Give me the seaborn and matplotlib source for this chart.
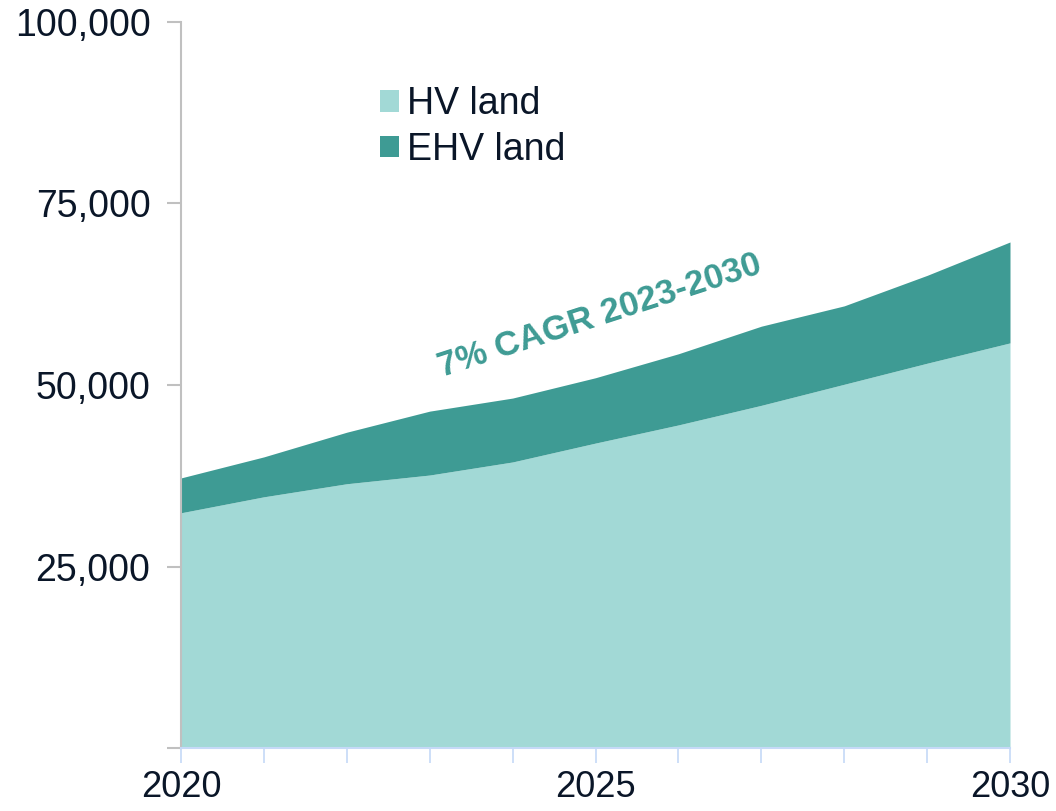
import matplotlib
matplotlib.use("Agg")
import matplotlib.pyplot as plt
import seaborn as sns
import numpy as np
import pandas as pd
from matplotlib.ticker import FuncFormatter, FixedLocator

years = [2020, 2021, 2022, 2023, 2024, 2025, 2026, 2027, 2028, 2029, 2030]
hv_land = [32400, 34600, 36400, 37600, 39400, 42000, 44500, 47200, 50100, 53000, 55800]
ehv_land = [4800, 5500, 7100, 8800, 8800, 9000, 9800, 10900, 10800, 12100, 13900]
series_names = ["HV land", "EHV land"]
series_colors = ["#a2d9d6", "#3e9b94"]
y_ticks = [0, 25000, 50000, 75000, 100000]
x_label_years = [2020, 2025, 2030]
annotation = "7% CAGR 2023-2030"

sns.set_theme(style="white")
plt.rcParams['font.family'] = ['Liberation Sans', 'DejaVu Sans']

df = pd.DataFrame({"year": years, "HV land": hv_land, "EHV land": ehv_land})
df["total"] = df["HV land"] + df["EHV land"]

fig = plt.figure(figsize=(10.56, 8.11), dpi=100)
ax = fig.add_axes([181/1056, 1 - 748/811, (1010-181)/1056, (748-22)/811])

sns.lineplot(data=df, x="year", y="HV land", ax=ax, color=series_colors[0], linewidth=0)
sns.lineplot(data=df, x="year", y="total", ax=ax, color=series_colors[1], linewidth=0)
ax.fill_between(df["year"], 0, df["HV land"], color=series_colors[0], linewidth=0, label=series_names[0])
ax.fill_between(df["year"], df["HV land"], df["total"], color=series_colors[1], linewidth=0, label=series_names[1])

ax.set_xlim(2020, 2030)
ax.set_ylim(0, 100000)
ax.set_xlabel("")
ax.set_ylabel("")

text_color = "#0a1628"
ax.yaxis.set_major_locator(FixedLocator(y_ticks))
ax.yaxis.set_major_formatter(FuncFormatter(lambda v, p: "" if v == 0 else f"{int(v):,}"))
ax.xaxis.set_major_locator(FixedLocator(years))
ax.xaxis.set_major_formatter(FuncFormatter(lambda v, p: str(int(round(v))) if int(round(v)) in x_label_years else ""))

for s in ["top", "right"]:
    ax.spines[s].set_visible(False)
ax.spines["left"].set_color("#c0c0c0")
ax.spines["left"].set_linewidth(1.5)
ax.spines["bottom"].set_color("#c5d9f7")
ax.spines["bottom"].set_linewidth(1.5)

ax.tick_params(axis="y", which="major", left=True, length=10, width=1.5, color="#c0c0c0",
               labelsize=27, labelcolor=text_color, pad=12)
ax.tick_params(axis="x", which="major", bottom=True, length=11, width=1.2, color="#c5d9f7",
               labelsize=26, labelcolor=text_color, pad=5)

ax.text(0.505, 0.596, annotation, transform=ax.transAxes, rotation=18, ha="center", va="center",
        fontsize=25, fontweight="bold", color=series_colors[1], rotation_mode="anchor")

leg = ax.legend(loc="upper left", bbox_to_anchor=(0.222, 0.932), frameon=False, fontsize=27,
                handlelength=0.5, handleheight=0.5, handletextpad=0.22, labelspacing=0.25,
                labelcolor=text_color, borderaxespad=0)

fig.savefig("out.png", dpi=100)
